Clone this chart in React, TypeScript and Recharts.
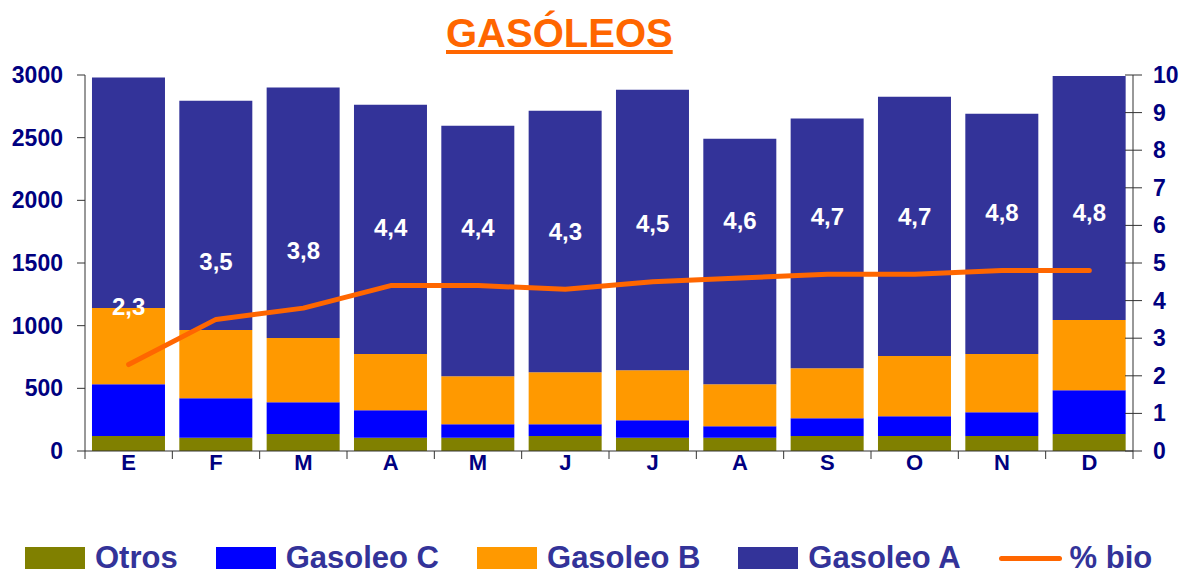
import React from 'react';
import { ComposedChart, Bar, Line, XAxis, YAxis, LabelList } from 'recharts';

const meses = ['E', 'F', 'M', 'A', 'M', 'J', 'J', 'A', 'S', 'O', 'N', 'D'];
const otros = [120, 105, 135, 105, 105, 120, 105, 105, 120, 120, 120, 135];
const gasoleoC = [413, 316, 254, 220, 108, 93, 140, 92, 141, 157, 189, 350];
const gasoleoB = [607, 544, 512, 448, 384, 416, 400, 336, 400, 480, 464, 560];
const gasoleoA = [1840, 1830, 1999, 1990, 1998, 2086, 2237, 1958, 1991, 2070, 1917, 1948];
const bio = [2.3, 3.5, 3.8, 4.4, 4.4, 4.3, 4.5, 4.6, 4.7, 4.7, 4.8, 4.8];

const leftTicks = [0, 500, 1000, 1500, 2000, 2500, 3000];
const rightTicks = [0, 1, 2, 3, 4, 5, 6, 7, 8, 9, 10];

const data = meses.map((mes, i) => ({
  mes,
  otros: otros[i],
  gasoleoC: gasoleoC[i],
  gasoleoB: gasoleoB[i],
  gasoleoA: gasoleoA[i],
  bio: bio[i],
}));

const FONT = '"Liberation Sans", Arial, sans-serif';
const NAVY = '#000080';
const W = 1180;
const LEFT_W = 85;
const RIGHT_W = 47;
const BAND = (W - LEFT_W - RIGHT_W) / meses.length;

const legendItems = [
  { name: 'Otros', color: '#808000', type: 'rect' },
  { name: 'Gasoleo C', color: '#0000FF', type: 'rect' },
  { name: 'Gasoleo B', color: '#FF9900', type: 'rect' },
  { name: 'Gasoleo A', color: '#333399', type: 'rect' },
  { name: '% bio', color: '#FF6600', type: 'line' },
];

// recharts hands the tick x/y already shifted by tickMargin (2px)
const LeftTick = (props: any) => {
  const { x, y, payload } = props;
  return (
    <g>
      <line x1={x - 6} y1={y} x2={x + 2} y2={y} stroke="#333" strokeWidth={1} />
      <text x={x - 20} y={y} textAnchor="end" dominantBaseline="central" fill={NAVY} fontSize={23} fontWeight="bold" fontFamily={FONT}>
        {payload.value}
      </text>
    </g>
  );
};

const RightTick = (props: any) => {
  const { x, y, payload } = props;
  return (
    <g>
      <line x1={x - 10} y1={y} x2={x + 7} y2={y} stroke="#333" strokeWidth={1} />
      <text x={x + 18} y={y} textAnchor="start" dominantBaseline="central" fill={NAVY} fontSize={23} fontWeight="bold" fontFamily={FONT}>
        {payload.value}
      </text>
    </g>
  );
};

const BottomTick = (props: any) => {
  const { x, y, payload, index } = props;
  const last = index === meses.length - 1;
  return (
    <g>
      <line x1={x - BAND / 2} y1={y - 2} x2={x - BAND / 2} y2={y + 6} stroke="#333" strokeWidth={1} />
      {last && <line x1={x + BAND / 2} y1={y - 2} x2={x + BAND / 2} y2={y + 6} stroke="#333" strokeWidth={1} />}
      <text x={x} y={y + 9} textAnchor="middle" dominantBaseline="central" fill={NAVY} fontSize={22} fontWeight="bold" fontFamily={FONT}>
        {payload.value}
      </text>
    </g>
  );
};

const BioLabel = (props: any) => {
  const { x, y, value } = props;
  return (
    <text x={x} y={y - 58} textAnchor="middle" dominantBaseline="central" fill="#fff" fontSize={24} fontWeight="bold" fontFamily={FONT}>
      {String(value).replace('.', ',')}
    </text>
  );
};

export default function App() {
  return (
    <div style={{ position: 'absolute', left: 0, top: 0, width: W, height: 581, background: '#fff', fontFamily: FONT, overflow: 'hidden' }}>
      <div
        style={{
          position: 'absolute',
          left: 446,
          top: 13,
          fontSize: 40,
          lineHeight: '40px',
          fontWeight: 'bold',
          color: '#FF6600',
          whiteSpace: 'nowrap',
          textDecoration: 'underline',
          textDecorationThickness: '4px',
          textUnderlineOffset: '3px',
        }}
      >
        GASÓLEOS
      </div>

      <ComposedChart width={W} height={501} data={data} margin={{ top: 75, right: 0, bottom: 0, left: 0 }} barCategoryGap="8%">
        <XAxis dataKey="mes" height={50} tickSize={0} tickLine={false} stroke="#333" tick={<BottomTick />} interval={0} />
        <YAxis yAxisId="left" orientation="left" width={LEFT_W} domain={[0, 3000]} ticks={leftTicks} tickSize={0} tickLine={false} stroke="#333" tick={<LeftTick />} interval={0} />
        <YAxis yAxisId="right" orientation="right" width={RIGHT_W} domain={[0, 10]} ticks={rightTicks} tickSize={0} tickLine={false} stroke="#333" tick={<RightTick />} interval={0} />
        <Bar yAxisId="left" dataKey="otros" name="Otros" stackId="s" fill="#808000" isAnimationActive={false} />
        <Bar yAxisId="left" dataKey="gasoleoC" name="Gasoleo C" stackId="s" fill="#0000FF" isAnimationActive={false} />
        <Bar yAxisId="left" dataKey="gasoleoB" name="Gasoleo B" stackId="s" fill="#FF9900" isAnimationActive={false} />
        <Bar yAxisId="left" dataKey="gasoleoA" name="Gasoleo A" stackId="s" fill="#333399" isAnimationActive={false} />
        <Line
          yAxisId="right"
          type="linear"
          dataKey="bio"
          name="% bio"
          stroke="#FF6600"
          strokeWidth={5}
          strokeLinecap="round"
          strokeLinejoin="round"
          dot={false}
          activeDot={false}
          isAnimationActive={false}
        >
          <LabelList dataKey="bio" content={<BioLabel />} />
        </Line>
      </ComposedChart>

      <div style={{ position: 'absolute', left: 25, top: 544, width: 1155, height: 28, display: 'flex', alignItems: 'center', whiteSpace: 'nowrap' }}>
        {legendItems.map((item, i) => (
          <div key={item.name} style={{ display: 'flex', alignItems: 'center', flexShrink: 0, marginRight: i < legendItems.length - 1 ? 38 : 0 }}>
            {item.type === 'rect' ? (
              <div style={{ width: 60, height: 22, background: item.color, flexShrink: 0 }} />
            ) : (
              <div style={{ width: 63, height: 5, borderRadius: 3, background: item.color, flexShrink: 0 }} />
            )}
            <span style={{ marginLeft: item.type === 'rect' ? 10 : 8, fontSize: 31, fontWeight: 'bold', color: '#333399', lineHeight: '28px', whiteSpace: 'nowrap' }}>
              {item.name}
            </span>
          </div>
        ))}
      </div>
    </div>
  );
}
